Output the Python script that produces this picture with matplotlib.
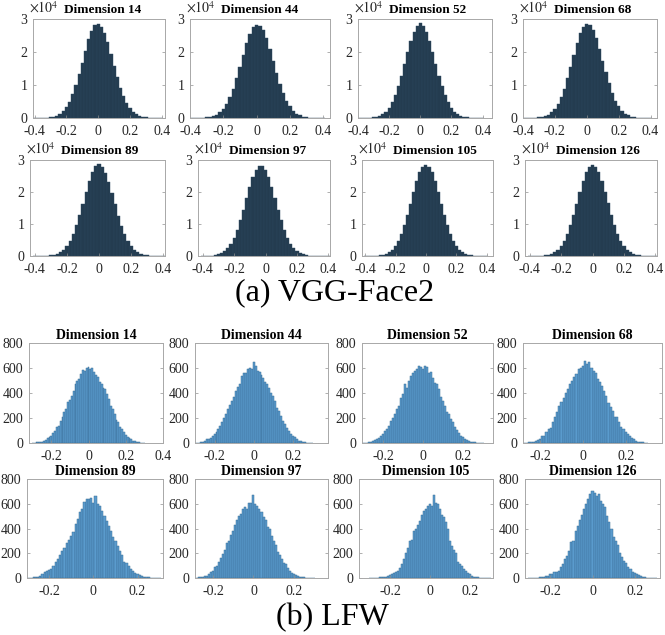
import numpy as np
import matplotlib.pyplot as plt

plt.rcParams['font.family'] = ['Liberation Serif', 'DejaVu Serif']
plt.rcParams['mathtext.fontset'] = 'stix'
plt.rcParams['axes.unicode_minus'] = False

dims = [14, 44, 52, 68, 89, 97, 105, 126]

# VGG-Face2: bar heights (x 10^4), bins of 0.02 from -0.40 to 0.40
vgg_14 = [0, 0.001, 0.002, 0.005, 0.011, 0.021, 0.040, 0.072, 0.125, 0.205, 0.33, 0.49, 0.72, 0.99,
          1.32, 1.68, 2.04, 2.38, 2.64, 2.81, 2.85, 2.76, 2.57, 2.29, 1.95, 1.59, 1.23, 0.92, 0.66,
          0.45, 0.29, 0.18, 0.108, 0.062, 0.034, 0.017, 0.009, 0.004, 0.002, 0.001, 0]
vgg_44 = [0, 0.001, 0.002, 0.004, 0.008, 0.016, 0.031, 0.058, 0.10, 0.17, 0.28, 0.43, 0.63, 0.89,
          1.20, 1.55, 1.91, 2.26, 2.55, 2.75, 2.83, 2.80, 2.66, 2.41, 2.09, 1.73, 1.37, 1.04, 0.76,
          0.52, 0.35, 0.22, 0.13, 0.076, 0.042, 0.022, 0.011, 0.005, 0.002, 0.001, 0]
vgg_52 = [0, 0.001, 0.002, 0.005, 0.010, 0.019, 0.037, 0.067, 0.117, 0.195, 0.31, 0.47, 0.69, 0.96,
          1.28, 1.64, 2.00, 2.34, 2.62, 2.80, 2.87, 2.80, 2.62, 2.34, 2.00, 1.64, 1.28, 0.96, 0.69,
          0.47, 0.31, 0.195, 0.117, 0.067, 0.037, 0.019, 0.010, 0.005, 0.002, 0.001, 0]
vgg_68 = [0, 0.001, 0.002, 0.004, 0.008, 0.016, 0.031, 0.058, 0.10, 0.17, 0.28, 0.43, 0.63, 0.89,
          1.20, 1.55, 1.91, 2.27, 2.57, 2.77, 2.85, 2.81, 2.67, 2.42, 2.10, 1.74, 1.38, 1.05, 0.77,
          0.53, 0.35, 0.22, 0.13, 0.076, 0.042, 0.022, 0.011, 0.005, 0.002, 0.001, 0]
vgg_89 = [0, 0.001, 0.002, 0.005, 0.010, 0.019, 0.037, 0.067, 0.117, 0.195, 0.31, 0.47, 0.69, 0.96,
          1.28, 1.64, 2.00, 2.35, 2.63, 2.81, 2.87, 2.79, 2.60, 2.32, 1.98, 1.62, 1.26, 0.95, 0.68,
          0.46, 0.30, 0.19, 0.113, 0.065, 0.036, 0.018, 0.009, 0.004, 0.002, 0.001, 0]
vgg_97 = [0.001, 0.003, 0.007, 0.014, 0.027, 0.05, 0.09, 0.15, 0.25, 0.38, 0.57, 0.82, 1.11, 1.45,
          1.81, 2.16, 2.47, 2.70, 2.82, 2.82, 2.70, 2.47, 2.16, 1.81, 1.45, 1.11, 0.82, 0.57, 0.38,
          0.25, 0.15, 0.09, 0.05, 0.027, 0.014, 0.007, 0.003, 0.001, 0, 0, 0]
vgg_105 = [0, 0.001, 0.002, 0.005, 0.010, 0.019, 0.037, 0.067, 0.117, 0.195, 0.31, 0.47, 0.69, 0.96,
           1.28, 1.64, 2.00, 2.34, 2.61, 2.78, 2.84, 2.78, 2.61, 2.34, 2.00, 1.64, 1.28, 0.96, 0.69,
           0.47, 0.31, 0.195, 0.117, 0.067, 0.037, 0.019, 0.010, 0.005, 0.002, 0.001, 0]
vgg_126 = [0, 0.001, 0.002, 0.005, 0.010, 0.019, 0.037, 0.067, 0.117, 0.195, 0.31, 0.47, 0.69, 0.96,
           1.28, 1.64, 2.00, 2.34, 2.61, 2.78, 2.84, 2.79, 2.62, 2.35, 2.01, 1.65, 1.29, 0.97, 0.70,
           0.48, 0.31, 0.195, 0.117, 0.067, 0.037, 0.019, 0.010, 0.005, 0.002, 0.001, 0]

# LFW: counts, bins of 0.01 from -0.30 to 0.30
lfw_14 = [2, 3, 5, 8, 10, 12, 20, 28, 40, 48, 58, 78, 95, 125, 140, 180, 205, 250, 275, 330, 345,
          380, 420, 475, 500, 515, 555, 585, 575, 600, 612, 595, 600, 565, 545, 530, 490, 470, 440,
          430, 390, 350, 300, 270, 230, 185, 165, 130, 110, 85, 68, 52, 40, 30, 20, 15, 10, 6, 4, 3, 2]
lfw_44 = [0, 1, 3, 5, 10, 18, 30, 35, 40, 55, 72, 90, 110, 135, 165, 200, 230, 275, 305, 340, 370,
          420, 450, 475, 540, 560, 560, 590, 600, 590, 650, 615, 580, 570, 545, 520, 490, 470, 440,
          400, 380, 340, 280, 255, 220, 175, 150, 120, 100, 75, 60, 45, 30, 20, 13, 9, 6, 4, 2, 1, 1]
lfw_52 = [1, 2, 4, 6, 10, 15, 22, 30, 40, 55, 70, 95, 110, 140, 175, 200, 235, 270, 300, 360, 395,
          470, 440, 500, 540, 560, 575, 590, 615, 610, 595, 620, 605, 560, 570, 520, 480, 470, 430,
          370, 340, 300, 250, 230, 190, 165, 130, 105, 80, 60, 48, 35, 25, 18, 12, 8, 6, 4, 2, 1, 1]
lfw_68 = [0, 1, 1, 2, 3, 5, 8, 12, 18, 25, 35, 55, 55, 85, 110, 120, 165, 210, 250, 300, 330,
          360, 400, 430, 470, 495, 530, 555, 595, 600, 615, 655, 630, 645, 600, 580, 560, 510, 490,
          460, 420, 380, 320, 290, 260, 205, 210, 170, 130, 110, 90, 70, 55, 40, 30, 20, 12, 8, 5, 3, 2]
lfw_89 = [1, 2, 3, 5, 8, 12, 20, 30, 45, 55, 62, 70, 100, 130, 150, 185, 215, 245, 280, 305, 340,
          375, 440, 475, 530, 560, 615, 635, 640, 650, 610, 660, 600, 580, 540, 500, 460, 420, 380,
          330, 300, 255, 215, 185, 130, 120, 100, 75, 55, 40, 30, 22, 15, 12, 8, 5, 3, 2, 1, 1, 0]
lfw_97 = [1, 2, 3, 5, 8, 12, 15, 20, 35, 45, 60, 85, 100, 130, 160, 195, 230, 285, 295, 350, 380,
          430, 465, 500, 520, 555, 575, 560, 610, 610, 670, 595, 580, 560, 530, 490, 470, 410, 400,
          340, 300, 270, 210, 185, 150, 120, 110, 80, 60, 40, 30, 22, 15, 10, 7, 5, 3, 2, 1, 1, 0]
lfw_105 = [0, 1, 1, 2, 3, 5, 7, 10, 12, 20, 25, 30, 40, 50, 60, 80, 115, 150, 200, 245, 300,
           310, 380, 400, 430, 460, 510, 540, 560, 580, 600, 580, 670, 610, 600, 560, 510, 490, 450,
           400, 300, 260, 230, 200, 130, 110, 100, 70, 55, 40, 30, 20, 12, 8, 5, 4, 3, 2, 1, 1, 0]
lfw_126 = [0, 1, 1, 2, 3, 5, 8, 12, 15, 20, 30, 35, 45, 50, 60, 85, 110, 150, 180, 220, 290,
           300, 380, 420, 470, 510, 560, 600, 640, 680, 705, 690, 660, 680, 620, 600, 570, 500, 450,
           400, 330, 300, 270, 200, 170, 140, 120, 90, 70, 50, 40, 30, 22, 15, 10, 6, 4, 3, 2, 1, 0]

vgg_counts = [vgg_14, vgg_44, vgg_52, vgg_68, vgg_89, vgg_97, vgg_105, vgg_126]
lfw_counts = [lfw_14, lfw_44, lfw_52, lfw_68, lfw_89, lfw_97, lfw_105, lfw_126]

W, H = 665, 635

# axes boxes in pixels: left, top, right, bottom
vgg_boxes = [(33, 19, 165, 118), (190, 19, 330, 118), (358, 19, 492, 118), (523, 19, 657, 118),
             (30, 160, 165, 256), (198, 160, 330, 256), (362, 160, 493, 256), (525, 160, 657, 256)]
vgg_xlims = [(-0.41, 0.42), (-0.4, 0.44), (-0.4, 0.46), (-0.4, 0.44),
             (-0.43, 0.41), (-0.43, 0.41), (-0.42, 0.44), (-0.43, 0.41)]
lfw_boxes = [(29, 343, 163, 443), (195, 343, 328, 443), (362, 343, 493, 443), (523, 343, 662, 443),
             (27, 479, 163, 578), (195, 479, 328, 578), (359, 479, 493, 578), (525, 479, 660, 578)]
lfw_xlims = [(-0.32, 0.40), (-0.30, 0.38), (-0.305, 0.35), (-0.28, 0.37),
             (-0.30, 0.315), (-0.29, 0.37), (-0.355, 0.315), (-0.32, 0.32)]


def make_axes(fig, box):
    l, t, r, b = box
    return fig.add_axes([l / W, 1 - b / H, (r - l) / W, (b - t) / H])


def style_axes(ax):
    for s in ax.spines.values():
        s.set_color('#a8a8a8')
        s.set_linewidth(0.7)
    ax.tick_params(direction='in', length=2, width=0.5, color='#909090',
                   labelsize=10, labelcolor='#262626', right=True)
    ax.tick_params(axis='x', pad=5)
    ax.tick_params(axis='y', pad=4)


fig = plt.figure(figsize=(W / 100, H / 100), dpi=100)

vgg_x = np.round(np.arange(41) * 0.02 - 0.40, 2)
for i, d in enumerate(dims):
    ax = make_axes(fig, vgg_boxes[i])
    ax.bar(vgg_x, vgg_counts[i], width=0.02, color='#243c50', edgecolor='#2a475e', linewidth=0.3)
    ax.set_xlim(*vgg_xlims[i])
    ax.set_ylim(0, 3)
    ax.set_xticks([-0.4, -0.2, 0, 0.2, 0.4])
    ax.set_xticklabels(['-0.4', '-0.2', '0', '0.2', '0.4'])
    ax.set_yticks([0, 1, 2, 3])
    ax.set_yticklabels(['0', '1', '2', '3'])
    style_axes(ax)
    l, t, r, b = vgg_boxes[i]
    ax.text((l - 4) / W, 1 - (t - 3) / H, r'$\times10^4$', transform=fig.transFigure,
            fontsize=10, color='#262626', ha='left', va='bottom')
    ax.text((l + 31) / W, 1 - (t - 3) / H, 'Dimension %d' % d, transform=fig.transFigure,
            fontsize=9.5, fontweight='bold', ha='left', va='bottom')

lfw_x = np.round(np.arange(61) * 0.01 - 0.30, 2)
for i, d in enumerate(dims):
    ax = make_axes(fig, lfw_boxes[i])
    ax.bar(lfw_x, lfw_counts[i], width=0.01, color='#5a9bcd', edgecolor='#3b6f98', linewidth=0.35)
    ax.set_xlim(*lfw_xlims[i])
    ax.set_ylim(0, 800)
    ticks = [t for t in [-0.2, 0, 0.2, 0.4] if lfw_xlims[i][0] <= t <= lfw_xlims[i][1]]
    ax.set_xticks(ticks)
    ax.set_xticklabels(['%g' % t for t in ticks])
    ax.set_yticks([0, 200, 400, 600, 800])
    style_axes(ax)
    ax.set_title('Dimension %d' % d, fontweight='bold', fontsize=10, pad=3)

fig.text(335 / W, 1 - 293 / H, '(a) VGG-Face2', ha='center', va='center', fontsize=23)
fig.text(332 / W, 1 - 618 / H, '(b) LFW', ha='center', va='center', fontsize=23)

fig.savefig('out.png', dpi=100)
